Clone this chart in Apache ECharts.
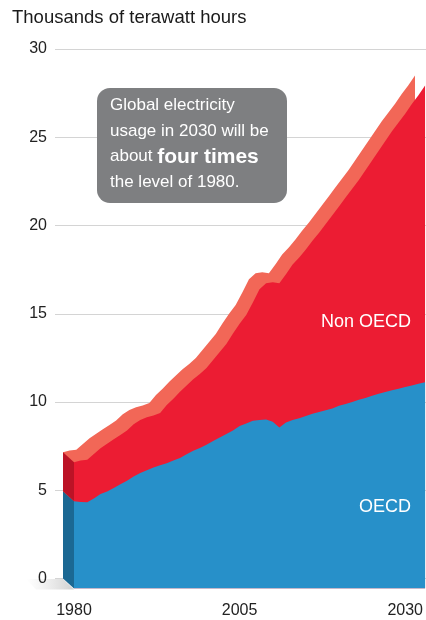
<!DOCTYPE html>
<html>
<head>
<meta charset="utf-8">
<script src="https://cdn.jsdelivr.net/npm/echarts@6/dist/echarts.min.js"></script>
<style>
  html, body { margin: 0; padding: 0; background: #ffffff; }
  #chart { width: 426px; height: 620px; }
</style>
</head>
<body>
<div id="chart"></div>
<script>
// ---- Data (thousands of terawatt hours) ----
var years = [1980,1981,1982,1983,1984,1985,1986,1987,1988,1989,
             1990,1991,1992,1993,1994,1995,1996,1997,1998,1999,
             2000,2001,2002,2003,2004,2005,2006,2007,2008,2009,
             2010,2011,2012,2013,2014,2015,2016,2017,2018,2019,
             2020,2021,2022,2023,2024,2025,2026,2027,2028,2029,
             2030,2031,2032,2033];
var totalWorld = [7.15,7.25,7.30,7.62,7.95,8.20,8.45,8.70,8.95,9.30,
                  9.55,9.70,9.80,9.95,10.40,10.75,11.15,11.50,11.85,12.15,
                  12.50,12.95,13.40,13.85,14.45,15.00,15.50,16.20,16.95,17.30,
                  17.35,17.30,17.80,18.35,18.75,19.20,19.70,20.15,20.65,21.15,
                  21.65,22.15,22.65,23.15,23.70,24.25,24.80,25.35,25.90,26.40,
                  26.90,27.45,27.95,28.50];
var oecd = [4.94,4.90,4.88,5.10,5.35,5.50,5.70,5.90,6.10,6.35,
            6.55,6.70,6.85,6.98,7.10,7.25,7.40,7.60,7.80,7.96,
            8.15,8.35,8.55,8.75,8.95,9.20,9.35,9.50,9.55,9.58,
            9.45,9.12,9.40,9.55,9.65,9.78,9.90,10.00,10.10,10.20,
            10.35,10.45,10.57,10.70,10.80,10.92,11.03,11.13,11.23,11.32,
            11.42,11.50,11.60,11.68];
var yTicks = [0, 5, 10, 15, 20, 25, 30];
var xTickLabels = [1980, 2005, 2030];
var titleText = 'Thousands of terawatt hours';
var seriesNames = ['OECD', 'Non OECD'];

// ---- Styling ----
var DEPTH_X = 11, DEPTH_Y = 10;
var C_BLUE = '#2790c9', C_RED = '#ec1c33', C_TOP = '#f26757';
var C_BLUE_SIDE = '#1b6893', C_RED_SIDE = '#bc1326';

var totalPts = years.map(function (y, i) { return [y, totalWorld[i]]; });
var oecdPts = years.map(function (y, i) { return [y, oecd[i]]; });

var chart = echarts.init(document.getElementById('chart'), null, { renderer: 'canvas' });

var xMin = years[0], xMax = years[years.length - 1];

var option = {
  animation: false,
  backgroundColor: '#ffffff',
  textStyle: { fontFamily: 'Liberation Sans, Arial, sans-serif' },
  grid: [
    { left: 55, right: 0, top: 49, bottom: 41.5 },             // axis / gridlines
    { left: 63, right: 11, top: 49, bottom: 41.5 },            // back plane
    { left: 74, right: 0, top: 49 + DEPTH_Y, bottom: 41.5 - DEPTH_Y } // front plane
  ],
  xAxis: [
    { gridIndex: 0, type: 'value', min: 0, max: 1, show: false },
    { gridIndex: 1, type: 'value', min: xMin, max: xMax, show: false },
    { gridIndex: 2, type: 'value', min: xMin, max: xMax, interval: 25,
      axisLine: { show: false }, axisTick: { show: false }, splitLine: { show: false },
      axisLabel: {
        show: true, margin: 14, fontSize: 16, color: '#222',
        showMaxLabel: false,
        formatter: function (v) { return xTickLabels.indexOf(v) >= 0 ? String(v) : ''; }
      }
    }
  ],
  yAxis: [
    { gridIndex: 0, type: 'value', min: yTicks[0], max: yTicks[yTicks.length - 1], interval: 5,
      axisLine: { show: false }, axisTick: { show: false },
      axisLabel: { margin: 8, fontSize: 16, color: '#222' },
      splitLine: { show: true, lineStyle: { color: '#d4d4d4', width: 1 } }
    },
    { gridIndex: 1, type: 'value', min: 0, max: 30, show: false },
    { gridIndex: 2, type: 'value', min: 0, max: 30, show: false }
  ],
  series: [
    {
      name: 'top', type: 'line', xAxisIndex: 1, yAxisIndex: 1,
      data: totalPts, symbol: 'none', smooth: false,
      lineStyle: { width: 0 }, areaStyle: { color: C_TOP, opacity: 1 },
      z: 2, silent: true
    },
    {
      name: 'side', type: 'custom', xAxisIndex: 1, yAxisIndex: 1,
      data: [[years[0], oecd[0], totalWorld[0]]],
      z: 3, silent: true,
      renderItem: function (params, api) {
        var x = api.value(0);
        var p0 = api.coord([x, 0]);
        var pO = api.coord([x, api.value(1)]);
        var pT = api.coord([x, api.value(2)]);
        function f(p) { return [p[0] + DEPTH_X, p[1] + DEPTH_Y]; }
        return {
          type: 'group',
          children: [
            { type: 'polygon', shape: { points: [p0, pO, f(pO), f(p0)] },
              style: { fill: C_BLUE_SIDE } },
            { type: 'polygon', shape: { points: [pO, pT, f(pT), f(pO)] },
              style: { fill: C_RED_SIDE } }
          ]
        };
      }
    },
    {
      name: seriesNames[1], type: 'line', xAxisIndex: 2, yAxisIndex: 2,
      data: totalPts, symbol: 'none', smooth: false,
      lineStyle: { width: 0 }, areaStyle: { color: C_RED, opacity: 1 },
      z: 4, silent: true
    },
    {
      name: seriesNames[0], type: 'line', xAxisIndex: 2, yAxisIndex: 2,
      data: oecdPts, symbol: 'none', smooth: false,
      lineStyle: { width: 0 }, areaStyle: { color: C_BLUE, opacity: 1 },
      z: 5, silent: true
    }
  ],
  graphic: [
    { type: 'text', left: 12, top: 8, z: 10,
      style: { text: titleText, fontSize: 18.5, fill: '#1a1a1a', fontFamily: 'Liberation Sans, Arial, sans-serif' } },
    { type: 'polygon', z: 0, silent: true,
      shape: { points: [[26, 579], [63, 579], [74, 589.5], [36, 589.5]] },
      style: { fill: { type: 'linear', x: 0, y: 0, x2: 1, y2: 0, colorStops: [
        { offset: 0, color: 'rgba(225,225,225,0)' },
        { offset: 1, color: 'rgba(205,205,205,0.95)' } ] } } },
    { type: 'rect', z: 20, silent: true,
      shape: { x: 97, y: 88, width: 190, height: 115, r: 13 },
      style: { fill: '#7e7f81' } },
    { type: 'text', z: 21, silent: true, x: 110, y: 93,
      style: {
        text: 'Global electricity\nusage in 2030 will be\nabout {b|four times}\nthe level of 1980.',
        fontSize: 17, lineHeight: 25.5, fill: '#ffffff',
        fontFamily: 'Liberation Sans, Arial, sans-serif',
        rich: { b: { fontSize: 21, fontWeight: 'bold', fill: '#ffffff', lineHeight: 25.5,
                     fontFamily: 'Liberation Sans, Arial, sans-serif' } }
      } },
    { type: 'text', z: 21, silent: true, x: 411, y: 322.5,
      style: { text: seriesNames[1], fontSize: 18, fill: '#ffffff', align: 'right', verticalAlign: 'middle',
               fontFamily: 'Liberation Sans, Arial, sans-serif' } },
    { type: 'text', z: 21, silent: true, x: 411, y: 507,
      style: { text: seriesNames[0], fontSize: 18, fill: '#ffffff', align: 'right', verticalAlign: 'middle',
               fontFamily: 'Liberation Sans, Arial, sans-serif' } }
  ]
};

chart.setOption(option);
</script>
</body>
</html>
